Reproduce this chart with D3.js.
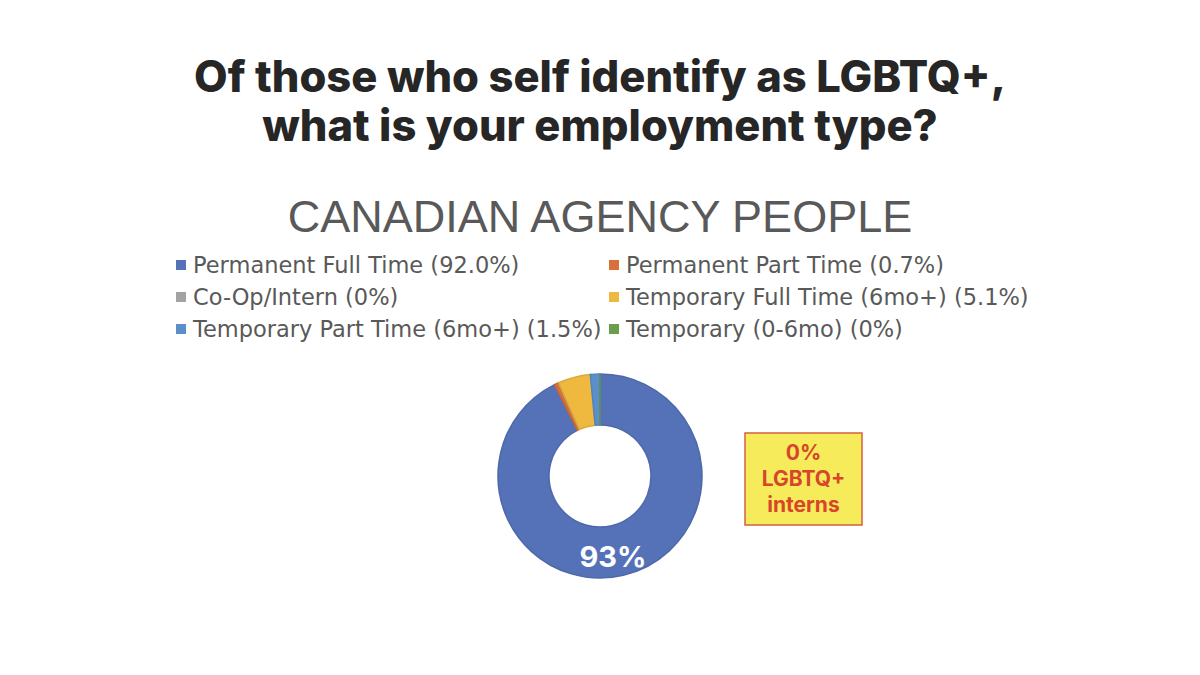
<!DOCTYPE html>
<html>
<head>
<meta charset="utf-8">
<script src="https://cdn.jsdelivr.net/npm/d3@7"></script>
<style>
  html, body { margin: 0; padding: 0; background: #fff; }
  svg { display: block; }
</style>
</head>
<body>
<div id="chart"></div>
<script>
// data
const categories = [
  "Permanent Full Time",
  "Permanent Part Time",
  "Co-Op/Intern",
  "Temporary Full Time (6mo+)",
  "Temporary Part Time (6mo+)",
  "Temporary (0-6mo)"
];
const shares = [92.0, 0.7, 0, 5.1, 1.5, 0];
const shareLabels = ["92.0%", "0.7%", "0%", "5.1%", "1.5%", "0%"];
const sliceColors = ["#5572b9", "#d8703a", "#a3a3a3", "#efb940", "#5b8fcc", "#6b9e4c"];
const titleLines = ["Of those who self identify as LGBTQ+,", "what is your employment type?"];
const subtitle = "CANADIAN AGENCY PEOPLE";
const bigLabel = "93%";
const calloutLines = ["0%", "LGBTQ+", "interns"];

const width = 1200, height = 675;

const svg = d3.select("#chart").append("svg")
  .attr("width", width)
  .attr("height", height);

// title
const title = svg.append("g").attr("class", "title");
title.selectAll("text")
  .data(titleLines)
  .join("text")
  .attr("x", width / 2)
  .attr("y", (d, i) => 92 + i * 49)
  .attr("text-anchor", "middle")
  .style("font-family", "Inter, 'Open Sans', sans-serif")
  .style("font-weight", 800)
  .style("font-size", "43.5px")
  .style("fill", "#262626")
  .text(d => d);

svg.append("text")
  .attr("x", width / 2)
  .attr("y", 232)
  .attr("text-anchor", "middle")
  .style("font-family", "'Liberation Sans', Arial, sans-serif")
  .style("font-size", "45px")
  .style("fill", "#595959")
  .text(subtitle);

// legend, two columns
const legendCols = [176, 609];
const legendRows = [265, 297, 329];
const legend = svg.append("g").attr("class", "legend");
const items = legend.selectAll("g")
  .data(categories)
  .join("g")
  .attr("transform", (d, i) => `translate(${legendCols[i % 2]},${legendRows[Math.floor(i / 2)]})`);

items.append("rect")
  .attr("x", 0)
  .attr("y", -5)
  .attr("width", 10)
  .attr("height", 10)
  .attr("fill", (d, i) => sliceColors[i]);

items.append("text")
  .attr("x", 17)
  .attr("dy", "0.35em")
  .style("font-family", "'DejaVu Sans', sans-serif")
  .style("font-size", "22.5px")
  .style("fill", "#595959")
  .text((d, i) => `${d} (${shareLabels[i]})`);

// donut
const cx = 600, cy = 476;
const outerR = 102, innerR = 51;

const pie = d3.pie().sort(null).value(d => d);
const arc = d3.arc().innerRadius(innerR).outerRadius(outerR);

const donut = svg.append("g").attr("transform", `translate(${cx},${cy})`);
donut.selectAll("path")
  .data(pie(shares))
  .join("path")
  .attr("d", arc)
  .attr("fill", (d, i) => sliceColors[i])
  .attr("stroke", (d, i) => d3.color(sliceColors[i]).darker(0.25))
  .attr("stroke-width", 1.5);

// big label sits near bottom of the main slice
donut.append("text")
  .attr("x", 13)
  .attr("y", 91)
  .attr("text-anchor", "middle")
  .style("font-family", "Inter, 'Open Sans', sans-serif")
  .style("font-weight", 700)
  .style("font-size", "29px")
  .style("fill", "#fff")
  .text(bigLabel);

// yellow callout box
const callout = svg.append("g").attr("transform", "translate(745,433)");
callout.append("rect")
  .attr("width", 117)
  .attr("height", 92)
  .attr("fill", "#f6ec5b")
  .attr("stroke", "#d4603f")
  .attr("stroke-width", 1.5);

callout.selectAll("text")
  .data(calloutLines)
  .join("text")
  .attr("x", 58.5)
  .attr("y", (d, i) => 27 + i * 26)
  .attr("text-anchor", "middle")
  .style("font-family", "Inter, 'Open Sans', sans-serif")
  .style("font-weight", 700)
  .style("font-size", "21px")
  .style("fill", "#d8452a")
  .text(d => d);
</script>
</body>
</html>
